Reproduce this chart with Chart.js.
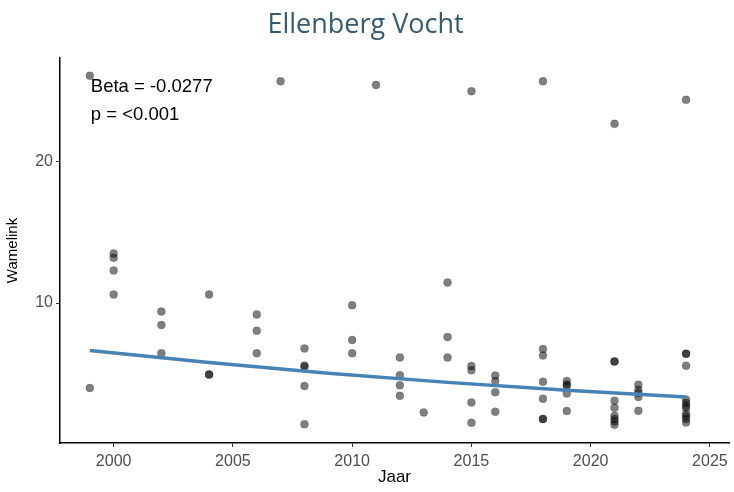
<!DOCTYPE html>
<html>
<head>
<meta charset="utf-8">
<script src="https://cdn.jsdelivr.net/npm/chart.js@4"></script>
<style>
  html, body { margin: 0; padding: 0; background: #fff; }
  #wrap { width: 734px; height: 492px; }
</style>
</head>
<body>
<div id="wrap"><canvas id="chart"></canvas></div>
<script>
var years = [
  1999, 1999,
  2000, 2000, 2000, 2000,
  2002, 2002, 2002,
  2004, 2004, 2004,
  2006, 2006, 2006,
  2007,
  2008, 2008, 2008, 2008, 2008,
  2010, 2010, 2010,
  2011,
  2012, 2012, 2012, 2012,
  2013,
  2014, 2014, 2014,
  2015, 2015, 2015, 2015, 2015,
  2016, 2016, 2016, 2016,
  2018, 2018, 2018, 2018, 2018, 2018, 2018,
  2019, 2019, 2019, 2019, 2019,
  2021, 2021, 2021, 2021, 2021, 2021, 2021, 2021, 2021,
  2022, 2022, 2022, 2022, 2022,
  2024, 2024, 2024, 2024, 2024, 2024, 2024, 2024, 2024, 2024, 2024, 2024
];
var values = [
  26.05, 4.0,
  13.5, 13.2, 12.3, 10.6,
  9.4, 8.45, 6.45,
  10.6, 4.95, 4.95,
  9.2, 8.05, 6.45,
  25.65,
  6.8, 5.6, 5.5, 4.15, 1.45,
  9.85, 7.4, 6.45,
  25.4,
  6.15, 4.9, 4.2, 3.45,
  2.28,
  11.45, 7.6, 6.15,
  24.95, 5.55, 5.25, 2.98, 1.55,
  4.88, 4.5, 3.7, 2.33,
  25.65, 6.75, 6.3, 4.45, 3.25, 1.82, 1.82,
  4.5, 4.25, 4.15, 3.62, 2.38,
  22.65, 5.88, 5.88, 3.1, 2.61, 2.05, 1.81, 1.64, 1.41,
  4.23, 3.88, 3.65, 3.37, 2.4,
  24.35, 6.42, 6.42, 5.58, 3.18, 2.94, 2.75, 2.59, 2.19, 2.0, 1.81, 1.57
];

// trend line
var trendYears = [1999, 2004, 2009, 2014, 2019, 2024];
var trendValues = [6.65, 5.80, 5.05, 4.40, 3.85, 3.37];

var xTicks = [2000, 2005, 2010, 2015, 2020, 2025];
var yTicks = [10, 20];

var pts = years.map(function(y, i){ return {x: y, y: values[i]}; });
var trend = trendYears.map(function(y, i){ return {x: y, y: trendValues[i]}; });

// text in the top left corner
var statsLabel = {
  id: 'statsLabel',
  afterDraw: function(chart){
    var ctx = chart.ctx;
    var x = chart.scales.x.getPixelForValue(1999);
    ctx.save();
    ctx.fillStyle = '#000';
    ctx.font = '18.5px "Liberation Sans", Arial, sans-serif';
    ctx.textBaseline = 'middle';
    ctx.fillText('Beta = -0.0277', x + 1, 87);
    ctx.fillText('p = <0.001', x + 1, 115);
    ctx.restore();
  }
};

var tickFont = {family: '"Liberation Sans", Arial, sans-serif', size: 16};

new Chart(document.getElementById('chart'), {
  type: 'scatter',
  data: {
    datasets: [{
      label: 'trend',
      data: trend,
      showLine: true,
      borderColor: '#4682b4',
      borderWidth: 3.5,
      pointRadius: 0,
      fill: false,
      order: 0
    }, {
      label: 'obs',
      data: pts,
      backgroundColor: 'rgba(0,0,0,0.5)',
      borderColor: 'rgba(0,0,0,0.15)',
      borderWidth: 1,
      pointRadius: 4,
      order: 1
    }]
  },
  options: {
    responsive: true,
    maintainAspectRatio: false,
    animation: false,
    layout: {padding: {left: 0, right: 3, top: 0, bottom: 0}},
    plugins: {
      legend: {display: false},
      tooltip: {enabled: false},
      title: {
        display: true,
        text: 'Ellenberg Vocht',
        color: '#345b6e',
        font: {family: '"Open Sans", sans-serif', size: 27, weight: 'normal'},
        padding: {top: 9, bottom: 16.6}
      }
    },
    scales: {
      x: {
        type: 'linear',
        min: 1997.75,
        max: 2025.8,
        afterBuildTicks: function(axis){
          axis.ticks = xTicks.map(function(v){ return {value: v}; });
        },
        afterFit: function(axis){ axis.height = 49; },
        grid: {drawOnChartArea: false, drawTicks: true, tickLength: 4, color: '#333'},
        border: {display: true, color: '#000', width: 1.5},
        ticks: {
          color: '#4d4d4d', font: tickFont, padding: 5,
          callback: function(v){ return String(v); }
        },
        title: {display: true, text: 'Jaar', color: '#000', font: {family: tickFont.family, size: 17}, padding: {top: 1}}
      },
      y: {
        type: 'linear',
        min: 0.12,
        max: 27.3,
        afterBuildTicks: function(axis){
          axis.ticks = yTicks.map(function(v){ return {value: v}; });
        },
        afterFit: function(axis){ axis.width = 60; },
        grid: {drawOnChartArea: false, drawTicks: true, tickLength: 4, color: '#333'},
        border: {display: true, color: '#000', width: 1.5},
        ticks: {color: '#4d4d4d', font: tickFont, padding: 3},
        title: {display: true, text: 'Wamelink', color: '#000', font: {family: tickFont.family, size: 15}, padding: {bottom: 4}}
      }
    }
  },
  plugins: [statsLabel]
});
</script>
</body>
</html>
